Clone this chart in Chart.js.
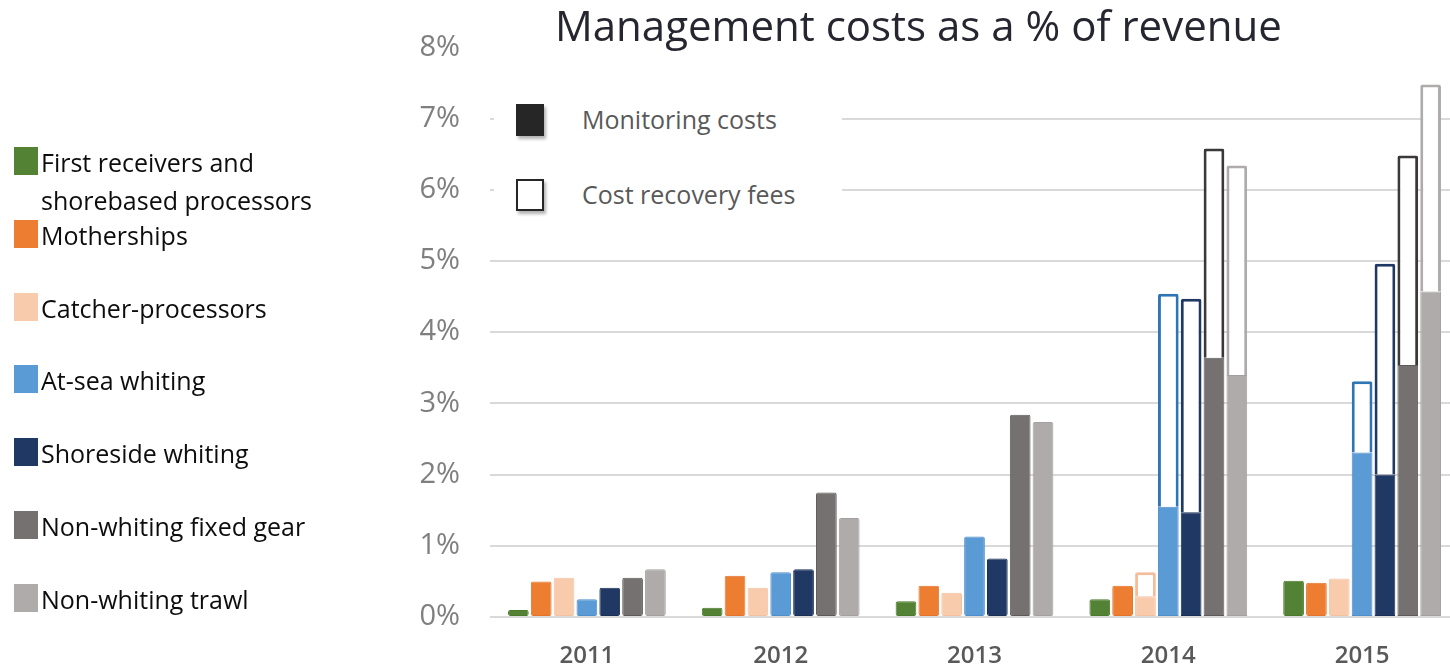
<!DOCTYPE html>
<html>
<head>
<meta charset="utf-8">
<script src="https://cdn.jsdelivr.net/npm/chart.js@4"></script>
<style>
  body { margin: 0; overflow: hidden; background: #fff; font-family: "Open Sans", sans-serif; }
  #wrap { position: absolute; left: 0; top: 0; width: 1470px; height: 669px; }
  #title { position: absolute; left: 555px; top: -4px; font-size: 42px; color: #262630; white-space: nowrap; }
  #inner { position: absolute; left: 494px; top: 96px; width: 348px; height: 124px; background: #fff; }
  .key { position: absolute; }
  .key .sq { position: absolute; left: 22px; width: 28px; height: 32px; box-sizing: border-box; box-shadow: 2px 3px 3px rgba(0,0,0,0.3); }
  .key .txt { position: absolute; left: 88px; font-size: 25px; line-height: 30px; color: #595959; white-space: nowrap; }
  .item { position: absolute; left: 0; }
  .item .sw { position: absolute; left: 14px; top: 4px; width: 24px; height: 28px; }
  .item .lab { position: absolute; left: 41px; top: 0; font-size: 25px; line-height: 38px; color: #0d0d0d; white-space: nowrap; }
</style>
</head>
<body>
<div id="wrap"><canvas id="chart" width="1470" height="669"></canvas></div>
<div id="title">Management costs as a % of revenue</div>
<div id="inner"></div>
<div id="legend"></div>
<script>
// Sample data
const years = ['2011', '2012', '2013', '2014', '2015'];
const groups = ['First receivers and shorebased processors', 'Motherships', 'Catcher-processors',
    'At-sea whiting', 'Shoreside whiting', 'Non-whiting fixed gear', 'Non-whiting trawl'];
const yTicks = [0, 1, 2, 3, 4, 5, 6, 7, 8];

// monitoring costs (% of revenue)
const firstReceiversMon = [0.10, 0.13, 0.22, 0.25, 0.51];
const mothershipsMon    = [0.50, 0.58, 0.44, 0.44, 0.48];
const catcherMon        = [0.55, 0.41, 0.34, 0.29, 0.54];
const atSeaMon          = [0.25, 0.63, 1.13, 1.55, 2.31];
const shoresideMon      = [0.41, 0.67, 0.82, 1.47, 2.00];
const fixedGearMon      = [0.55, 1.75, 2.84, 3.64, 3.54];
const trawlMon          = [0.67, 1.39, 2.74, 3.40, 4.57];

// cost recovery fees (% of revenue), none before 2014
const firstReceiversFee = [null, null, null, null, null];
const mothershipsFee    = [null, null, null, null, null];
const catcherFee        = [null, null, null, 0.34, null];
const atSeaFee          = [null, null, null, 2.99, 1.00];
const shoresideFee      = [null, null, null, 3.00, 2.96];
const fixedGearFee      = [null, null, null, 2.94, 2.94];
const trawlFee          = [null, null, null, 2.94, 2.91];

const monitoring = [firstReceiversMon, mothershipsMon, catcherMon, atSeaMon, shoresideMon, fixedGearMon, trawlMon];
const fees = [firstReceiversFee, mothershipsFee, catcherFee, atSeaFee, shoresideFee, fixedGearFee, trawlFee];

const fills   = ['#548235', '#ED7D31', '#F8CBAD', '#5B9BD5', '#203864', '#767171', '#AFABAB'];
const edges   = ['#4a7a2c', '#e3722a', '#f3c0a0', '#4e8ecb', '#1a2f55', '#5e5a5a', '#a4a0a0'];
const outline = ['#548235', '#ED7D31', '#F4BC98', '#2E75B6', '#203864', '#3b3838', '#AFABAB'];

// left legend
const legend = document.getElementById('legend');
groups.forEach((g, i) => {
    const item = document.createElement('div');
    item.className = 'item';
    item.style.top = (143 + 72.8 * i) + 'px';
    const sw = document.createElement('div');
    sw.className = 'sw';
    sw.style.background = fills[i];
    const lab = document.createElement('div');
    lab.className = 'lab';
    lab.innerHTML = i === 0 ? 'First receivers and<br>shorebased processors' : g;
    item.appendChild(sw);
    item.appendChild(lab);
    legend.appendChild(item);
});

// inner legend
const inner = document.getElementById('inner');
[['Monitoring costs', true], ['Cost recovery fees', false]].forEach(([label, solid], i) => {
    const key = document.createElement('div');
    key.className = 'key';
    key.style.top = (8 + 75 * i) + 'px';
    const sq = document.createElement('div');
    sq.className = 'sq';
    sq.style.background = solid ? '#262626' : '#fff';
    if (!solid) sq.style.border = '2px solid #262626';
    const txt = document.createElement('div');
    txt.className = 'txt';
    txt.innerText = label;
    key.appendChild(sq);
    key.appendChild(txt);
    inner.appendChild(key);
});

const datasets = [];
groups.forEach((g, i) => {
    datasets.push({
        label: g + ' - monitoring',
        data: monitoring[i],
        stack: 's' + i,
        backgroundColor: fills[i],
        borderColor: edges[i],
        borderWidth: 1,
        borderRadius: 2,
        borderSkipped: false
    });
});
groups.forEach((g, i) => {
    datasets.push({
        label: g + ' - fees',
        data: fees[i],
        stack: 's' + i,
        backgroundColor: '#fff',
        borderColor: outline[i],
        borderWidth: 3,
        borderRadius: 2,
        borderSkipped: 'start'
    });
});

const ctx = document.getElementById('chart').getContext('2d');
const chart = new Chart(ctx, {
    type: 'bar',
    data: { labels: years, datasets: datasets },
    options: {
        responsive: false,
        animation: false,
        devicePixelRatio: 1,
        categoryPercentage: 0.825,
        barPercentage: 0.907,
        layout: { padding: { left: 400, right: 11, top: 46, bottom: 0 } },
        plugins: { legend: { display: false }, tooltip: { enabled: false } },
        scales: {
            x: {
                stacked: true,
                grid: { display: false, drawTicks: false },
                border: { display: false },
                ticks: { padding: 25, color: '#595959', font: { family: 'Open Sans', size: 24, weight: '600' } },
                afterFit: s => { s.height = 52; }
            },
            y: {
                stacked: true,
                min: 0,
                max: 8,
                afterBuildTicks: s => { s.ticks = yTicks.map(v => ({ value: v })); },
                grid: {
                    drawTicks: false,
                    lineWidth: 2,
                    color: c => c.tick && c.tick.value === 8 ? 'rgba(0,0,0,0)' : '#d9d9d9'
                },
                border: { display: false },
                ticks: {
                    padding: 30,
                    color: '#7f7f7f',
                    font: { family: 'Open Sans', size: 29 },
                    callback: v => v + '%'
                },
                afterFit: s => { s.width = 90; }
            }
        }
    }
});
</script>
</body>
</html>
